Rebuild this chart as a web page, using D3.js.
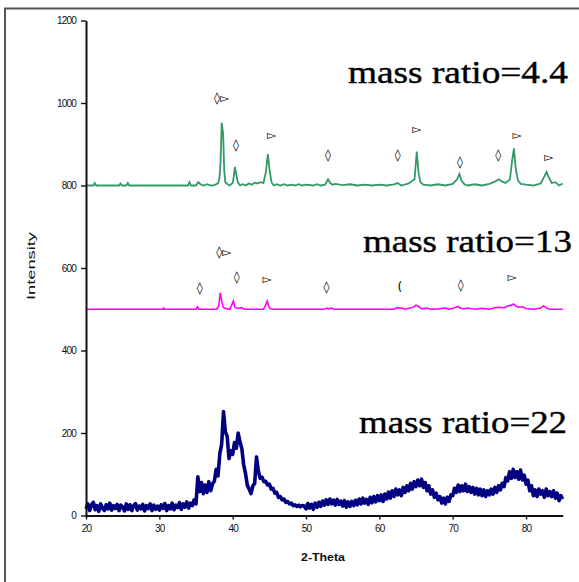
<!DOCTYPE html>
<html>
<head>
<meta charset="utf-8">
<script src="https://cdn.jsdelivr.net/npm/d3@7"></script>
<style>
  html, body { margin: 0; padding: 0; background: #fff; }
  svg { display: block; }
</style>
</head>
<body>
<svg id="chart" width="579" height="582"></svg>
<script>
// ---------- DATA ----------
const xTicks = [20, 30, 40, 50, 60, 70, 80];
const yTicks = [0, 200, 400, 600, 800, 1000, 1200];
const seriesNames = ["mass ratio=4.4", "mass ratio=13", "mass ratio=22"];

// mass ratio = 4.4 (green) : [2-Theta, Intensity]
const green = [
 [20,800],[21,800],[21.2,806],[21.4,800],[24.5,800],[24.7,805],[24.9,800],[25.5,800],[25.7,806],[25.9,800],
 [33.9,800],[34.1,808],[34.3,800],[35,800],[35.3,808],[35.6,803],[36,800],[36.5,803],[37,800],[37.5,801],
 [38,805],[38.2,818],[38.35,855],[38.5,952],[38.7,925],[38.85,835],[39.0,808],[39.3,803],[39.6,800],[40,806],
 [40.15,822],[40.3,845],[40.5,826],[40.7,808],[41,800],[41.4,803],[41.8,800],[42.2,805],[42.6,802],[43,807],
 [43.4,805],[43.8,808],[44.2,806],[44.5,830],[44.8,876],[45.05,835],[45.3,808],[45.6,800],[46,803],[46.5,800],
 [47,803],[47.5,800],[48,802],[48.5,800],[49,803],[49.5,800],[50,802],[51,800],[51.5,803],[52,800],
 [52.6,802],[53,815],[53.3,806],[53.6,802],[54,804],[55,801],[56,803],[57,800],[58,802],[59,800],
 [60,802],[61,800],[62,803],[62.5,806],[63,800],[64,805],[64.8,815],[65.1,882],[65.35,830],[65.6,808],
 [66,802],[67,800],[68,803],[69,800],[70,804],[70.6,815],[70.9,828],[71.2,812],[71.6,803],[72,800],
 [73,803],[74,800],[75,804],[75.8,810],[76.3,815],[76.7,810],[77.2,806],[77.8,815],[78.1,860],[78.35,890],
 [78.6,840],[78.9,812],[79.3,804],[80,802],[81,800],[82,805],[82.5,822],[82.8,833],[83.1,820],[83.5,806],
 [84,808],[84.5,800],[85,805]
];

// mass ratio = 13 (magenta)
const magenta = [
 [20,500],[30.5,500],[30.6,503],[30.7,500],[35,500],[35.2,506],[35.4,500],[37.8,500],[38.1,508],[38.3,540],
 [38.5,520],[38.7,505],[39,502],[39.6,500],[39.9,512],[40.1,520],[40.3,505],[40.7,502],[41.2,504],[41.6,500],
 [44.2,500],[44.5,510],[44.7,520],[44.9,508],[45.1,501],[45.5,500],[52.5,500],[52.8,503],[53.1,501],[53.5,503],
 [53.8,500],[62,500],[62.4,504],[63,503],[63.5,500],[64.6,505],[65.0,510],[65.4,506],[65.8,501],[66.5,503],
 [67,500],[68,501],[69,503],[69.5,500],[70.2,503],[70.7,507],[71,503],[71.5,501],[72,503],[73,500],
 [74,502],[75,500],[75.8,504],[76.5,505],[77,503],[77.5,508],[78,510],[78.3,513],[78.6,508],[79,505],
 [79.5,506],[80,502],[81,500],[82,503],[82.4,508],[82.8,503],[83.2,500],[85,500]
];

// mass ratio = 22 (navy) : intensities every 0.25 deg from 20 to 85
const navyStart = 20, navyStep = 0.25;
const navyValues = [
 16,28,12,26,32,14,24,10,28,18,12,26,16,30,13,24,17,27,12,25,
 20,11,28,15,26,12,24,29,13,23,16,27,11,24,17,28,12,25,15,23,
 13,26,17,29,12,24,16,30,14,25,19,31,15,28,20,33,18,30,24,38,
 28,94,58,80,53,74,56,82,60,77,83,112,96,150,173,252,203,192,138,157,
 148,177,163,200,178,162,123,102,73,64,53,72,78,142,108,90,93,82,83,74,
 76,64,66,54,56,44,46,38,40,32,34,28,30,24,26,22,25,21,24,23,
 16,29,18,27,15,30,20,32,22,35,25,38,27,40,28,37,25,39,27,35,
 23,36,20,33,22,34,24,37,26,40,28,42,30,39,27,44,31,46,33,48,
 36,50,34,52,40,57,42,60,46,64,50,62,48,68,56,72,60,78,64,82,
 70,86,72,88,68,80,60,72,52,62,44,54,38,46,30,42,28,44,34,50,
 48,66,56,74,58,72,60,76,58,70,56,68,52,66,50,64,48,62,46,60,
 50,64,52,68,56,72,62,78,70,92,84,106,90,112,92,106,88,110,86,98,
 76,86,60,72,48,62,46,64,52,60,44,64,48,58,46,60,42,54,36,48,
 40
];

// peak markers: [2-Theta, Intensity, symbol]
const greenMarks = [
 [38.5,1012,"◊▻"],[40.45,898,"◊"],[45.3,923,"▻"],[53.0,874,"◊"],[62.5,874,"◊"],
 [65.1,937,"▻"],[71.0,858,"◊"],[76.2,874,"◊"],[78.8,922,"▻"],[83.1,870,"▻"]
];
const magentaMarks = [
 [35.5,551,"◊"],[38.8,640,"◊▻"],[40.55,579,"◊"],[44.7,573,"▻"],[52.8,555,"◊"],
 [62.8,555,"("],[71.1,559,"◊"],[78.1,577,"▻"]
];

// ---------- DRAW ----------
const svg = d3.select("#chart");
const x = d3.scaleLinear().domain([20, 85]).range([86, 562.7]);
const y = d3.scaleLinear().domain([0, 1200]).range([515.5, 20.5]);

// outer frame
svg.append("rect").attr("x", 5).attr("y", 8.5).attr("width", 640).attr("height", 640)
  .attr("fill", "none").attr("stroke", "#555").attr("stroke-width", 2);

const navy = navyValues.map((v, i) => [navyStart + i * navyStep, v]);
const line = d3.line().x(d => x(d[0])).y(d => y(d[1]));

svg.append("path").datum(navy).attr("d", line)
  .attr("fill", "none").attr("stroke", "#000080").attr("stroke-width", 3.6).attr("stroke-linejoin", "round");
svg.append("path").datum(magenta).attr("d", line)
  .attr("fill", "none").attr("stroke", "#ff00ff").attr("stroke-width", 1.6);
svg.append("path").datum(green).attr("d", line)
  .attr("fill", "none").attr("stroke", "#339966").attr("stroke-width", 1.8);

// axes
const yAxis = svg.append("g").attr("transform", `translate(${x(20)},0)`)
  .call(d3.axisLeft(y).tickValues(yTicks).tickSize(5).tickSizeOuter(0).tickPadding(5).tickFormat(d3.format("d")));
const xAxis = svg.append("g").attr("transform", `translate(0,${y(0)})`)
  .call(d3.axisBottom(x).tickValues(xTicks).tickSize(4).tickSizeOuter(0).tickPadding(5).tickFormat(d3.format("d")));
[yAxis, xAxis].forEach(g => {
  g.select(".domain").attr("stroke", "#111").attr("stroke-width", 2);
  g.selectAll(".tick line").attr("stroke", "#111").attr("stroke-width", 1.4);
  g.selectAll(".tick text").attr("fill", "#111")
    .style("font-family", "'Liberation Sans', Arial, sans-serif").style("font-size", "10px")
    .attr("letter-spacing", "-0.8");
});

// axis titles
svg.append("text").attr("transform", "translate(35,266) rotate(-90)")
  .attr("text-anchor", "middle").attr("textLength", 68).attr("lengthAdjust", "spacingAndGlyphs")
  .style("font-family", "'Liberation Sans', Arial, sans-serif").style("font-size", "11px").attr("fill", "#111")
  .text("Intensity");
svg.append("text").attr("x", 323).attr("y", 561)
  .attr("text-anchor", "middle").attr("textLength", 44).attr("lengthAdjust", "spacingAndGlyphs")
  .style("font-family", "'Liberation Sans', Arial, sans-serif").style("font-size", "10px").style("font-weight", "bold").attr("fill", "#111")
  .text("2-Theta");

// series labels
const labelPos = [[348, 83, 220], [363, 252, 209], [359, 433, 208]];
seriesNames.forEach((s, i) => {
  svg.append("text").attr("x", labelPos[i][0]).attr("y", labelPos[i][1])
    .attr("textLength", labelPos[i][2]).attr("lengthAdjust", "spacingAndGlyphs")
    .style("font-family", "'Liberation Serif', 'Times New Roman', serif").style("font-size", "31px")
    .attr("fill", "#000").attr("stroke", "#000").attr("stroke-width", 0.4).text(s);
});

// peak markers
function marks(arr) {
  arr.forEach(m => {
    svg.append("text").attr("x", x(m[0])).attr("y", y(m[1]))
      .attr("text-anchor", "middle").attr("dominant-baseline", "central")
      .style("font-family", "'DejaVu Sans', sans-serif").style("font-size", "12px")
      .attr("fill", "#000").text(m[2]);
  });
}
marks(greenMarks);
marks(magentaMarks);
</script>
</body>
</html>
